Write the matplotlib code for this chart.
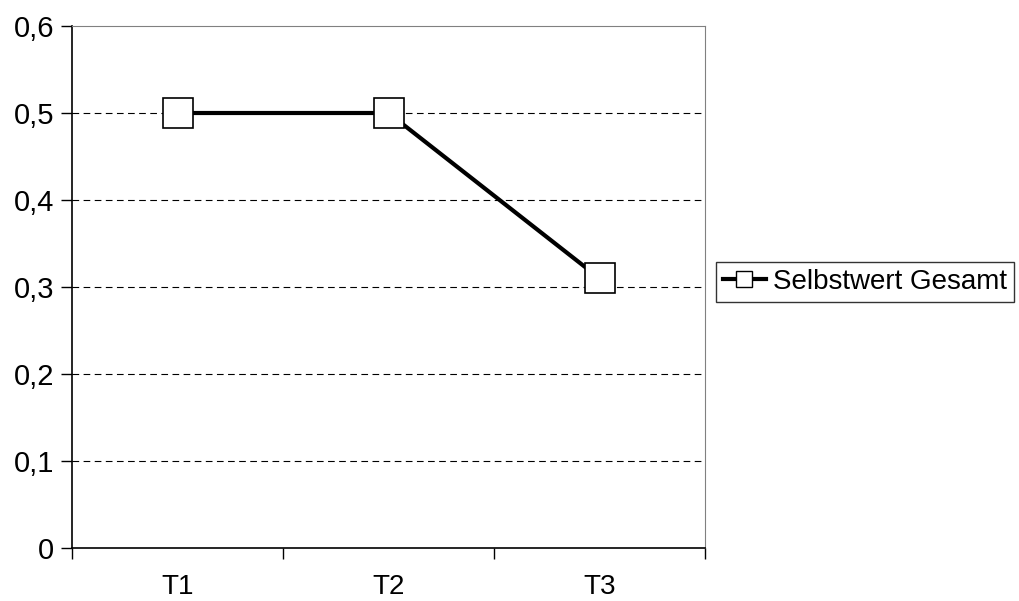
import matplotlib
matplotlib.use("Agg")
import matplotlib.pyplot as plt
import numpy as np
from matplotlib.lines import Line2D

categories = ["T1", "T2", "T3"]
values = [0.5, 0.5, 0.31]
series_name = "Selbstwert Gesamt"
yticks = [0, 0.1, 0.2, 0.3, 0.4, 0.5, 0.6]
ytick_labels = ["0", "0,1", "0,2", "0,3", "0,4", "0,5", "0,6"]

plt.rcParams['font.family'] = ['Liberation Sans', 'DejaVu Sans']

W, H = 1019, 601
FS = 21
fig = plt.figure(figsize=(W / 100, H / 100), dpi=100)
ax = fig.add_axes([72 / W, (H - 548) / H, (705 - 72) / W, (548 - 26) / H])

x = np.arange(len(categories)) + 0.5
ax.plot(x, values, color="black", lw=3, marker="s", markersize=21,
        markerfacecolor="white", markeredgecolor="black", markeredgewidth=1.2,
        zorder=3, clip_on=False)

ax.set_xlim(0, len(categories))
ax.set_ylim(0, 0.6)
ax.set_yticks(yticks)
ax.set_yticklabels(ytick_labels, fontsize=FS)
ax.set_xticks(np.arange(len(categories) + 1))
ax.set_xticklabels([])
ax.set_xticks(x, minor=True)
ax.set_xticklabels(categories, minor=True, fontsize=20)
ax.tick_params(axis="x", which="minor", length=0, pad=19)
ax.tick_params(axis="x", which="major", length=8, width=1, direction="out", color="black")
ax.tick_params(axis="y", length=8, width=1, direction="out", pad=5)

for yv in yticks[1:-1]:
    ax.axhline(yv, color="black", lw=0.8, ls=(0, (6, 4)), zorder=1)

ax.spines["left"].set_color("black")
ax.spines["bottom"].set_color("black")
ax.spines["left"].set_linewidth(1.2)
ax.spines["bottom"].set_linewidth(1.2)
ax.spines["top"].set_color("#808080")
ax.spines["right"].set_color("#808080")

handle = Line2D([], [], color="black", lw=3, marker="s", markersize=12,
                markerfacecolor="white", markeredgecolor="black", markeredgewidth=1)
leg = fig.legend([handle], [series_name], loc="center left",
                 bbox_to_anchor=(716 / W, (H - 282) / H), fontsize=20,
                 frameon=True, fancybox=False, handlelength=1.55,
                 handletextpad=0.25, borderpad=0.25, borderaxespad=0)
leg.get_frame().set_edgecolor("black")
leg.get_frame().set_linewidth(1)

fig.savefig("out.png", dpi=100)
